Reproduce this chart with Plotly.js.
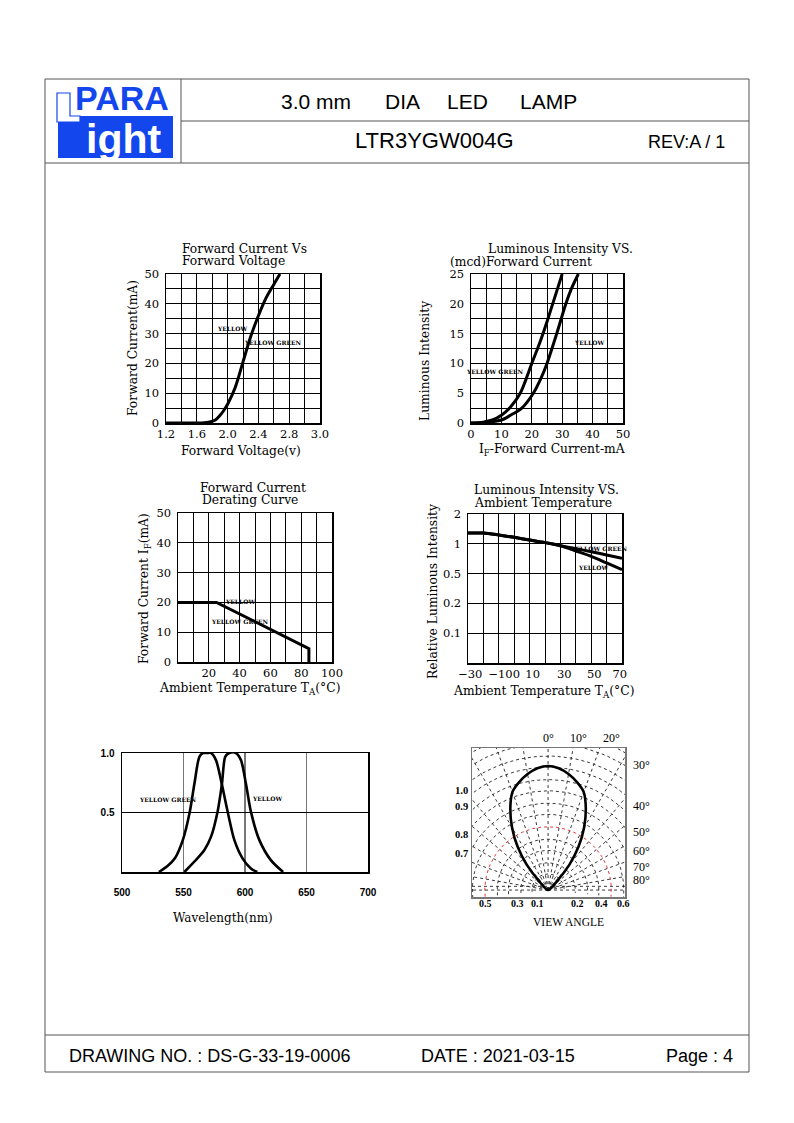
<!DOCTYPE html>
<html><head><meta charset="utf-8">
<script src="https://cdn.plot.ly/plotly-3.0.1.min.js"></script>
<style>html,body{margin:0;padding:0;background:#fff;} #page{width:794px;height:1123px;}</style>
</head><body><div id="page"></div>
<script>
// ================= DATA =================
// Chart 1: Forward Current vs Forward Voltage
const fv_voltage = [1.2, 1.6, 1.7, 1.78, 1.85, 1.9, 1.95, 2.0, 2.1, 2.2, 2.3, 2.4, 2.5, 2.6, 2.68];
const fv_current = [0, 0, 0.1, 0.4, 1.2, 2.5, 4.2, 6.3, 12, 20.5, 29, 36, 42, 46.5, 50];
const fv_xTickVals = [1.2, 1.6, 2.0, 2.4, 2.8, 3.2];
const fv_xTickText = ['1.2', '1.6', '2.0', '2.4', '2.8', '3.0'];

// Chart 2: Luminous Intensity vs Forward Current
const li_yg_current = [0, 4, 7, 10, 13, 16.2, 18, 20, 22.5, 25, 27.5, 30];
const li_yg_mcd     = [0, 0.15, 0.5, 1.3, 2.7, 5, 7.2, 10, 13.3, 17, 21, 25];
const li_y_current  = [0, 5, 10, 13, 16.7, 20.5, 23, 25, 28.2, 31.2, 33, 35.3];
const li_y_mcd      = [0, 0.1, 0.5, 1.3, 2.5, 5, 7.5, 10, 15, 20, 22.5, 25];

// Chart 3: Forward Current Derating Curve
const der_temp    = [0, 25, 85, 85];
const der_current = [20, 20, 4.5, 0];
const der_xTickVals = [20, 40, 60, 80, 100];

// Chart 4: Luminous Intensity vs Ambient Temperature
const lt_temp   = [-30, -20, -10, 0, 10, 20, 30, 40, 50, 60, 70];
const lt_yg_rel = [1.285, 1.285, 1.227, 1.162, 1.093, 1.028, 0.957, 0.893, 0.833, 0.771, 0.713];
const lt_y_rel  = [1.285, 1.285, 1.227, 1.162, 1.093, 1.028, 0.957, 0.846, 0.747, 0.640, 0.548];
const lt_yTickText = ['0.1', '0.2', '0.5', '1', '2'];
const lt_xTickText = ['\u221230', '\u2212100', '10', '30', '50', '70'];

// Chart 5: Spectral distribution
const sp_yg_wl  = [530, 537, 543, 549.5, 555, 559, 563, 566, 569, 572.5, 576.4, 580.5, 585.9, 591.3, 598, 604.8, 610];
const sp_yg_rel = [0, 0.05, 0.115, 0.27, 0.5, 0.75, 0.97, 1.0, 1.0, 1.0, 0.94, 0.77, 0.507, 0.27, 0.115, 0.03, 0];
const sp_y_wl   = [550.7, 558.8, 567, 572.4, 577.7, 581.3, 584, 587.2, 592.6, 596.7, 600.7, 604.8, 611.6, 621, 631];
const sp_y_rel  = [0, 0.087, 0.185, 0.297, 0.507, 0.745, 0.97, 1.0, 1.0, 0.94, 0.745, 0.507, 0.27, 0.1, 0];
const sp_xTickVals = [500, 550, 600, 650, 700];
const sp_yTickText = ['0.5', '1.0'];

// Chart 6: Radiation pattern (view angle)
const va_angle = [0, 5, 10, 15, 20, 25, 30, 35, 40, 45, 48];
const va_rel   = [1.0, 0.985, 0.95, 0.9, 0.84, 0.72, 0.58, 0.43, 0.27, 0.1, 0];
const va_topLabels    = ['0\u00b0', '10\u00b0', '20\u00b0'];
const va_rightLabels  = ['30\u00b0', '40\u00b0', '50\u00b0', '60\u00b0', '70\u00b0', '80\u00b0'];
const va_leftLabels   = ['1.0', '0.9', '0.8', '0.7'];
const va_bottomLabels = ['0.5', '0.3', '0.1', '0.2', '0.4', '0.6'];

// ================= LAYOUT HELPERS =================
const W = 794, H = 1123;
const PX = x => x / W;
const PY = y => 1 - y / H;
const SERIF = 'DejaVu Serif';
const SANS = 'Liberation Sans';
const TSERIF = 'Liberation Serif';
const BLUE = '#1446ee';
const FS = 12.3;

function ann(text, x, y, o = {}) {
  return {
    text, x: PX(x), y: PY(y), xref: 'paper', yref: 'paper',
    xanchor: o.xa || 'center', yanchor: 'middle', showarrow: false,
    textangle: o.rot || 0,
    font: { family: o.family || SERIF, size: o.size || FS, color: o.color || '#000', weight: o.weight || 'normal' }
  };
}
function hline(x0, x1, y, c = '#555', w = 1) {
  return { type: 'line', xref: 'paper', yref: 'paper', x0: PX(x0), x1: PX(x1), y0: PY(y), y1: PY(y), line: { color: c, width: w } };
}
function vline(x, y0, y1, c = '#555', w = 1) {
  return { type: 'line', xref: 'paper', yref: 'paper', x0: PX(x), x1: PX(x), y0: PY(y0), y1: PY(y1), line: { color: c, width: w } };
}
function axis(d0, d1, isX, extra) {
  const base = {
    domain: isX ? [PX(d0), PX(d1)] : [PY(d1), PY(d0)],
    showline: true, mirror: true, linecolor: '#000', linewidth: 1.5,
    zeroline: false, ticks: '', showgrid: true, gridcolor: '#000', gridwidth: 1,
    ticklabelstandoff: isX ? 0 : 3,
    tickfont: { family: SERIF, size: 11.5, color: '#000' }, fixedrange: true
  };
  return Object.assign(base, extra);
}
function curve(x, y, xa, ya, w = 3, o = {}) {
  return { type: 'scatter', mode: 'lines', x, y, xaxis: xa, yaxis: ya, hoverinfo: 'skip',
    line: { color: o.color || '#000', width: w, dash: o.dash || 'solid', shape: o.shape || 'spline', smoothing: 0.8 } };
}

// relative-intensity scale of chart 4 (grid rows 0.1, 0.2, 0.5, 1, 2)
const relAnchors = [0.1, 0.2, 0.5, 1, 2];
function relToRow(v) {
  for (let i = 0; i < relAnchors.length - 1; i++) {
    const a = relAnchors[i], b = relAnchors[i + 1];
    if (v <= b || i === relAnchors.length - 2) return (i + 1) + Math.log(v / a) / Math.log(b / a);
  }
}

// ================= TRACES =================
const traces = [];
traces.push(curve(fv_voltage, fv_current, 'x', 'y', 3));
traces.push(curve(li_yg_current, li_yg_mcd, 'x2', 'y2', 3));
traces.push(curve(li_y_current, li_y_mcd, 'x2', 'y2', 3));
traces.push(curve(der_temp, der_current, 'x3', 'y3', 3, { shape: 'linear' }));
traces.push(curve(lt_temp, lt_yg_rel.map(relToRow), 'x4', 'y4', 3));
traces.push(curve(lt_temp, lt_y_rel.map(relToRow), 'x4', 'y4', 3));
traces.push(curve(sp_yg_wl, sp_yg_rel, 'x5', 'y5', 2.6));
traces.push(curve(sp_y_wl, sp_y_rel, 'x5', 'y5', 2.6));

// Chart 6 polar grid (styling), drawn in a cartesian frame
const c6Radii = [0.13, 0.22, 0.32, 0.41, 0.51, 0.61, 0.70, 0.80, 0.89, 0.99, 1.08, 1.18, 1.27, 1.36];
const RED_R = 0.51;
c6Radii.forEach(r => {
  const xs = [], ys = [];
  for (let a = -96; a <= 96; a += 2) { const t = a * Math.PI / 180; xs.push(r * Math.sin(t)); ys.push(r * Math.cos(t)); }
  const red = r === RED_R;
  traces.push(curve(xs, ys, 'x6', 'y6', 0.9, { color: red ? '#e02020' : '#222', dash: '3px,3px', shape: 'linear' }));
});
for (let a = -90; a <= 90; a += 10) {
  const t = a * Math.PI / 180;
  traces.push(curve([0, 1.6 * Math.sin(t)], [0, 1.6 * Math.cos(t)], 'x6', 'y6', 0.9, { color: '#222', dash: '3px,3px', shape: 'linear' }));
}
traces.push(curve([-1, 1], [0.03, 0.03], 'x6', 'y6', 0.9, { color: '#222', dash: '3px,3px', shape: 'linear' }));
// view-angle teardrop
{
  const xs = [], ys = [];
  for (let i = va_angle.length - 1; i >= 0; i--) { const t = -va_angle[i] * Math.PI / 180; xs.push(va_rel[i] * Math.sin(t)); ys.push(va_rel[i] * Math.cos(t)); }
  for (let i = 1; i < va_angle.length; i++) { const t = va_angle[i] * Math.PI / 180; xs.push(va_rel[i] * Math.sin(t)); ys.push(va_rel[i] * Math.cos(t)); }
  traces.push(curve(xs, ys, 'x6', 'y6', 2.6));
}

// ================= AXES =================
const layout = {
  width: W, height: H, autosize: false, margin: { l: 0, r: 0, t: 0, b: 0 },
  paper_bgcolor: '#fff', plot_bgcolor: '#fff', showlegend: false, hovermode: false,
  xaxis: axis(166, 320, true, { anchor: 'y', range: [1.2, 3.2], tickmode: 'array', tickvals: fv_xTickVals, ticktext: fv_xTickText,
    minor: { tickmode: 'linear', tick0: 1.2, dtick: 0.2, showgrid: true, gridcolor: '#000', gridwidth: 1, ticks: '' } }),
  yaxis: axis(274, 423, false, { anchor: 'x', range: [0, 50], dtick: 10,
    minor: { tickmode: 'linear', tick0: 0, dtick: 5, showgrid: true, gridcolor: '#000', gridwidth: 1, ticks: '' } }),
  xaxis2: axis(471, 623, true, { anchor: 'y2', range: [0, 50], dtick: 10,
    minor: { tickmode: 'linear', tick0: 0, dtick: 5, showgrid: true, gridcolor: '#000', gridwidth: 1, ticks: '' } }),
  yaxis2: axis(274, 423, false, { anchor: 'x2', range: [0, 25], dtick: 5,
    minor: { tickmode: 'linear', tick0: 0, dtick: 2.5, showgrid: true, gridcolor: '#000', gridwidth: 1, ticks: '' } }),
  xaxis3: axis(178, 332, true, { anchor: 'y3', range: [0, 100], tickmode: 'array', tickvals: der_xTickVals,
    minor: { tickmode: 'linear', tick0: 0, dtick: 10, showgrid: true, gridcolor: '#000', gridwidth: 1, ticks: '' } }),
  yaxis3: axis(513, 662, false, { anchor: 'x3', range: [0, 50], dtick: 10 }),
  xaxis4: axis(468, 622, true, { anchor: 'y4', range: [-30, 70], tickmode: 'array', tickvals: [-28.5, -6.5, 12, 32.5, 52, 68.5], ticktext: lt_xTickText, showgrid: false,
    minor: { tickmode: 'linear', tick0: -30, dtick: 10, showgrid: true, gridcolor: '#000', gridwidth: 1, ticks: '' } }),
  yaxis4: axis(514, 663, false, { anchor: 'x4', range: [0, 5], tickmode: 'array', tickvals: [1, 2, 3, 4, 5], ticktext: lt_yTickText }),
  xaxis5: axis(122, 368, true, { anchor: 'y5', range: [500, 700], tickmode: 'array', tickvals: sp_xTickVals, gridcolor: '#777', gridwidth: 1.5,
    ticklabelstandoff: 10, tickfont: { family: SANS, size: 10, color: '#000', weight: 'bold' } }),
  yaxis5: axis(753, 872, false, { anchor: 'x5', range: [0, 1], tickmode: 'array', tickvals: [0.5, 1.0], ticktext: sp_yTickText,
    ticklabelstandoff: 4, tickfont: { family: SANS, size: 10, color: '#000', weight: 'bold' } }),
  xaxis6: axis(472, 625, true, { anchor: 'y6', range: [-0.613, 0.62], showgrid: false, showticklabels: false, linecolor: '#777' }),
  yaxis6: axis(748, 897, false, { anchor: 'x6', range: [-0.056, 1.145], showgrid: false, showticklabels: false, linecolor: '#777' }),
  shapes: [], annotations: []
};

// ================= PAGE FRAME =================
const S = layout.shapes;
S.push({ type: 'rect', xref: 'paper', yref: 'paper', x0: PX(45), x1: PX(749), y0: PY(1072), y1: PY(79), line: { color: '#555', width: 1 } });
S.push(hline(45, 749, 163));
S.push(hline(181, 749, 121));
S.push(vline(181, 79, 163));
S.push(hline(45, 749, 1035));
// logo
S.push({ type: 'rect', xref: 'paper', yref: 'paper', x0: PX(58), x1: PX(173), y0: PY(158), y1: PY(116), fillcolor: BLUE, line: { width: 0 } });
S.push({ type: 'path', xref: 'paper', yref: 'paper',
  path: `M${PX(57)},${PY(93)} L${PX(70)},${PY(93)} L${PX(70)},${PY(116)} L${PX(80)},${PY(116)} L${PX(80)},${PY(122)} L${PX(57)},${PY(122)} Z`,
  fillcolor: '#fff', line: { color: BLUE, width: 1.2 } });

const A = layout.annotations;
A.push(ann('PARA', 122, 98, { family: SANS, size: 34, color: BLUE, weight: 'bold' }));
A.push(ann('ight', 123, 139.5, { family: SANS, size: 41, color: '#fff', weight: 'bold' }));
// header
A.push(ann('3.0 mm', 316, 102, { family: SANS, size: 21 }));
A.push(ann('DIA', 402, 102, { family: SANS, size: 21 }));
A.push(ann('LED', 467, 102, { family: SANS, size: 21 }));
A.push(ann('LAMP', 548, 102, { family: SANS, size: 21 }));
A.push(ann('LTR3YGW004G', 434, 140, { family: SANS, size: 22 }));
A.push(ann('REV:A / 1', 686, 142, { family: SANS, size: 18 }));
// footer
A.push(ann('DRAWING NO. : DS-G-33-19-0006', 67, 1056, { family: SANS, size: 18, xa: 'left' }));
A.push(ann('DATE : 2021-03-15', 419, 1056, { family: SANS, size: 18, xa: 'left' }));
A.push(ann('Page : 4', 664, 1056, { family: SANS, size: 18, xa: 'left' }));

// chart titles
A.push(ann('Forward Current Vs', 180, 249, { xa: 'left' }));
A.push(ann('Forward Voltage', 180, 261, { xa: 'left' }));
A.push(ann('Luminous Intensity VS.', 486, 249, { xa: 'left' }));
A.push(ann('(mcd)Forward Current', 448, 262, { xa: 'left' }));
A.push(ann('Forward Current', 253, 488));
A.push(ann('Derating Curve', 250, 500));
A.push(ann('Luminous Intensity VS.', 472, 490, { xa: 'left' }));
A.push(ann('Ambient Temperature', 472, 503, { xa: 'left' }));

// axis titles
A.push(ann('Forward Current(mA)', 133, 348, { rot: -90 }));
A.push(ann('Forward Voltage(v)', 241, 451));
A.push(ann('Luminous Intensity', 425, 361, { rot: -90 }));
A.push(ann('I<sub>F</sub>-Forward Current-mA', 552, 450));
A.push(ann('Forward Current I<sub>F</sub>(mA)', 145, 589, { rot: -90 }));
A.push(ann('Ambient Temperature T<sub>A</sub>(\u00b0C)', 250, 689));
A.push(ann('Relative Luminous Intensity', 433, 592, { rot: -90 }));
A.push(ann('Ambient Temperature T<sub>A</sub>(\u00b0C)', 543, 692));
A.push(ann('Wavelength(nm)', 223, 918, { size: 12 }));
A.push(ann('VIEW ANGLE', 568, 922, { family: TSERIF, size: 11.5 }));

// curve labels
const tiny = { size: 6, weight: 'bold' };
A.push(ann('YELLOW', 233, 328, tiny));
A.push(ann('YELLOW GREEN', 273, 342, tiny));
A.push(ann('YELLOW GREEN', 495, 372, tiny));
A.push(ann('YELLOW', 589, 342, tiny));
A.push(ann('YELLOW', 240, 601, tiny));
A.push(ann('YELLOW GREEN', 240, 621, tiny));
A.push(ann('YELLOW GREEN', 599, 548, tiny));
A.push(ann('YELLOW', 593, 567, tiny));
A.push(ann('YELLOW GREEN', 168, 799, tiny));
A.push(ann('YELLOW', 267, 798, tiny));

// chart 6 labels
const topX = [548, 578, 611];
va_topLabels.forEach((t, i) => A.push(ann(t, topX[i], 738, { family: TSERIF, size: 12 })));
const rightY = [765, 806, 832, 851, 867, 880];
va_rightLabels.forEach((t, i) => A.push(ann(t, 641, rightY[i], { family: TSERIF, size: 12 })));
const leftY = [790, 806, 834, 853];
va_leftLabels.forEach((t, i) => A.push(ann(t, 461, leftY[i], { family: TSERIF, size: 10.5, weight: 'bold' })));
const botX = [486, 517, 537, 577, 601, 623];
va_bottomLabels.forEach((t, i) => A.push(ann(t, botX[i], 903, { family: TSERIF, size: 10, weight: 'bold' })));

Plotly.newPlot('page', traces, layout, { staticPlot: true, displayModeBar: false });
</script>
</body></html>
